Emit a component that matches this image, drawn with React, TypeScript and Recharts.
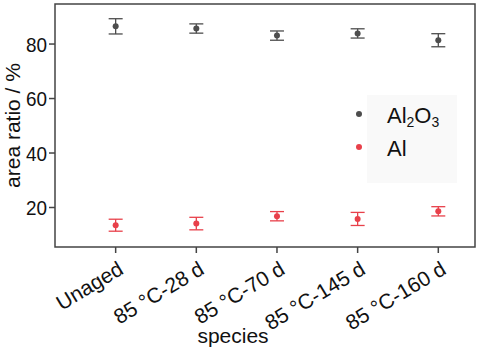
import React from "react";
import {
  ScatterChart,
  Scatter,
  XAxis,
  YAxis,
  ErrorBar,
  Label,
  ReferenceArea,
} from "recharts";

const categories = ["Unaged", "85 °C-28 d", "85 °C-70 d", "85 °C-145 d", "85 °C-160 d"];
const positions = [1, 2, 3, 4, 5];
const al2o3Values = [86.5, 85.7, 83.1, 83.9, 81.4];
const al2o3Errors = [2.8, 1.7, 1.7, 1.7, 2.4];
const alValues = [13.5, 14.1, 16.8, 15.8, 18.6];
const alErrors = [2.2, 2.3, 1.7, 2.4, 1.7];
const yTicks = [20, 40, 60, 80];

const al2o3Data = positions.map((x, i) => ({ x, y: al2o3Values[i], err: al2o3Errors[i] }));
const alData = positions.map((x, i) => ({ x, y: alValues[i], err: alErrors[i] }));

const X_DOMAIN = [0.248, 5.455];
const Y_DOMAIN = [5.5, 94.7];

const FONT = "'Liberation Sans', Arial, sans-serif";
const GRAY = "#4d4d4d";
const RED = "#e8404a";
const FRAME = "#444";

const XTick = (props: any) => {
  const { x, y, payload } = props;
  return (
    <g transform={`translate(${x + 2},${y + 6}) rotate(-31)`}>
      <text textAnchor="end" dy={14} fontSize={21} fontFamily={FONT} fill="#111">
        {categories[payload.value - 1]}
      </text>
    </g>
  );
};

const YTick = (props: any) => {
  const { x, y, payload } = props;
  return (
    <g transform={`translate(${x},${y}) scale(0.9,1)`}>
      <text textAnchor="end" dy="0.36em" fontSize={21} fontFamily={FONT} fill="#111">
        {payload.value}
      </text>
    </g>
  );
};

const Dot = (props: any) => <circle cx={props.cx} cy={props.cy} r={3} fill={props.fill} />;

const YLabel = (props: any) => {
  const vb = props.viewBox || {};
  const cy = (vb.y ?? 4) + (vb.height ?? 243) / 2;
  return (
    <text
      transform={`translate(20,${cy}) rotate(-90)`}
      textAnchor="middle"
      fontSize={21}
      fontFamily={FONT}
      fill="#111"
    >
      area ratio / %
    </text>
  );
};

const XLabel = () => (
  <text x={233} y={343} textAnchor="middle" fontSize={21} fontFamily={FONT} fill="#111">
    species
  </text>
);

const LegendOverlay = () => (
  <svg width={118} height={88} style={{ position: "absolute", left: 340, top: 95 }}>
    <rect x={27} y={0} width={90} height={88} fill="#f9f9f9" />
    <circle cx={19} cy={19} r={3} fill={GRAY} />
    <text x={47} y={28} fontSize={22} fontFamily={FONT} fill="#111">
      Al
      <tspan fontSize={14} dy={4}>2</tspan>
      <tspan dy={-4}>O</tspan>
      <tspan fontSize={14} dy={4}>3</tspan>
    </text>
    <circle cx={19} cy={52} r={3} fill={RED} />
    <text x={47} y={61} fontSize={22} fontFamily={FONT} fill="#111">
      Al
    </text>
  </svg>
);

export default function App() {
  return (
    <div style={{ position: "absolute", left: 0, top: 0, width: 484, height: 352, background: "#fff" }}>
      <ScatterChart width={484} height={352} margin={{ top: 4, right: 9, left: 0, bottom: 0 }}>
        <XAxis
          type="number"
          dataKey="x"
          domain={X_DOMAIN}
          ticks={positions}
          allowDataOverflow
          height={105}
          tick={<XTick />}
          tickSize={6}
          axisLine={false}
          tickLine={{ stroke: FRAME, strokeWidth: 1.5 }}
        >
          <Label content={<XLabel />} />
        </XAxis>
        <YAxis
          type="number"
          dataKey="y"
          domain={Y_DOMAIN}
          ticks={yTicks}
          allowDataOverflow
          width={55}
          tickSize={6}
          tick={<YTick />}
          axisLine={false}
          tickLine={{ stroke: FRAME, strokeWidth: 1.5 }}
        >
          <Label content={<YLabel />} />
        </YAxis>
        <ReferenceArea
          x1={X_DOMAIN[0]}
          x2={X_DOMAIN[1]}
          y1={Y_DOMAIN[0]}
          y2={Y_DOMAIN[1]}
          fill="none"
          fillOpacity={0}
          stroke={FRAME}
          strokeWidth={1.5}
          ifOverflow="visible"
        />
        <Scatter name="Al2O3" data={al2o3Data} fill={GRAY} shape={<Dot />} isAnimationActive={false}>
          <ErrorBar dataKey="err" width={7} stroke={GRAY} strokeWidth={1.3} direction="y" />
        </Scatter>
        <Scatter name="Al" data={alData} fill={RED} shape={<Dot />} isAnimationActive={false}>
          <ErrorBar dataKey="err" width={7} stroke={RED} strokeWidth={1.3} direction="y" />
        </Scatter>
      </ScatterChart>
      <LegendOverlay />
    </div>
  );
}
